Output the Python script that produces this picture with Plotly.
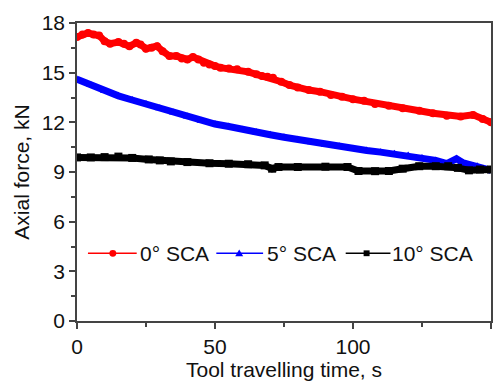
import plotly.graph_objects as go

# Tool travelling time (s) and axial force (kN)
t_red = [0, 2, 4, 6, 8, 10, 12, 15, 17, 19, 21.5, 23, 25, 27, 29, 31, 33.5, 36, 38, 40,
         42, 44, 46, 48, 50, 52, 55, 58, 62, 65, 67, 69, 71, 74, 77, 80, 84, 88, 92, 96,
         100, 104, 108, 113, 118, 124, 129, 134, 139, 143.5, 147, 150]
f_red = [17.15, 17.3, 17.4, 17.3, 17.25, 16.9, 16.75, 16.85, 16.75, 16.6, 16.8, 16.7, 16.45,
         16.5, 16.6, 16.3, 16.0, 16.0, 15.85, 15.8, 15.95, 15.8, 15.6, 15.5, 15.4, 15.3,
         15.25, 15.2, 15.05, 14.9, 14.8, 14.75, 14.7, 14.45, 14.25, 14.1, 13.95, 13.85,
         13.65, 13.55, 13.4, 13.3, 13.1, 13.0, 12.85, 12.7, 12.55, 12.4, 12.35, 12.45, 12.2, 12.0]

t_blue = [0, 5, 10, 15, 20, 25, 30, 35, 40, 45, 50, 55, 60, 65, 70, 75, 80, 85, 90, 95,
          100, 105, 110, 115, 120, 125, 130, 134, 137.5, 140, 145, 150]
f_blue = [14.6, 14.25, 13.9, 13.6, 13.35, 13.1, 12.85, 12.6, 12.35, 12.1, 11.9, 11.75,
          11.55, 11.4, 11.25, 11.1, 10.95, 10.8, 10.65, 10.55, 10.4, 10.3, 10.2, 10.1,
          10.0, 9.85, 9.7, 9.5, 9.8, 9.55, 9.35, 9.1]

t_black = [0, 5, 10, 15, 20, 26, 30, 34, 40, 48, 55, 62, 68, 70.7, 73, 80, 90, 98, 102,
           108, 113, 118, 124, 130, 134.5, 138, 142, 146, 150]
f_black = [9.88, 9.88, 9.9, 9.93, 9.85, 9.76, 9.7, 9.64, 9.6, 9.53, 9.5, 9.47, 9.4, 9.2,
           9.3, 9.3, 9.32, 9.3, 9.06, 9.05, 9.06, 9.2, 9.35, 9.35, 9.35, 9.25, 9.1, 9.15, 9.15]

names = ["0° SCA", "5° SCA", "10° SCA"]
colors = ["#ff0000", "#0000ff", "#000000"]
symbols = ["circle", "triangle-up", "square"]

x_ticks = [0, 50, 100, 150]
y_ticks = [0, 3, 6, 9, 12, 15, 18]

W, H = 504, 387
ML, MR, MT, MB = 77, 11, 19, 60
PW, PH = W - ML - MR, H - MT - MB


def px(x):  # pixel x -> paper x
    return (x - ML) / PW


def py(y):  # pixel y -> paper y
    return (H - MB - y) / PH


FONT = "Liberation Sans, Arial, sans-serif"
TXT = "#111"
fig = go.Figure()
for name, xs, ys, col, sym in zip(names, [t_red, t_blue, t_black],
                                  [f_red, f_blue, f_black], colors, symbols):
    fig.add_trace(go.Scatter(x=xs, y=ys, mode="lines+markers", name=name, showlegend=False,
                             line=dict(color=col, width=7),
                             marker=dict(color=col, symbol=sym, size=8)))

# custom legend (line + symbol + label), placed like the reference
legend_items = [  # (line start, line end, marker centre, text start) in pixels
    (88, 137, 113, 138),
    (217, 264, 240, 266),
    (347, 392, 368, 392),
]
ly = 257
shapes = []
annotations = []
for (x0, x1, xm, xt), name, col, sym in zip(legend_items, names, colors, symbols):
    shapes.append(dict(type="line", xref="paper", yref="paper", x0=px(x0), x1=px(x1),
                       y0=py(ly), y1=py(ly), line=dict(color=col, width=1.5)))
    if sym == "circle":
        shapes.append(dict(type="circle", xref="paper", yref="paper",
                           x0=px(xm - 3.5), x1=px(xm + 3.5), y0=py(ly + 3.5), y1=py(ly - 3.5),
                           fillcolor=col, line=dict(color=col, width=0)))
    elif sym == "square":
        shapes.append(dict(type="rect", xref="paper", yref="paper",
                           x0=px(xm - 3), x1=px(xm + 3), y0=py(ly + 3), y1=py(ly - 3),
                           fillcolor=col, line=dict(color=col, width=0)))
    else:
        path = "M {} {} L {} {} L {} {} Z".format(px(xm - 4), py(ly + 3), px(xm + 4),
                                                  py(ly + 3), px(xm), py(ly - 4))
        shapes.append(dict(type="path", xref="paper", yref="paper", path=path,
                           fillcolor=col, line=dict(color=col, width=0)))
    annotations.append(dict(text=name, xref="paper", yref="paper", x=px(xt), y=py(ly),
                            xanchor="left", yanchor="middle", showarrow=False,
                            font=dict(family=FONT, size=21, color=TXT)))

axis_common = dict(showline=True, linecolor="#444", linewidth=1.5, mirror=True,
                   ticks="outside", ticklen=6, tickwidth=1.5, tickcolor="#444",
                   showgrid=False, zeroline=False,
                   tickfont=dict(family=FONT, size=21, color=TXT))
fig.update_xaxes(range=[0, 150], tickvals=x_ticks, ticktext=[str(v) for v in x_ticks],
                 title=dict(text="Tool travelling time, s", standoff=3,
                            font=dict(family=FONT, size=21, color=TXT)),
                 minor=dict(dtick=25, tick0=0, ticks="outside", ticklen=4, tickwidth=1.5,
                            tickcolor="#444"),
                 **axis_common)
fig.update_yaxes(range=[0, 18], tickvals=y_ticks, ticktext=[str(v) for v in y_ticks],
                 title=dict(text="Axial force, kN", standoff=6,
                            font=dict(family=FONT, size=21, color=TXT)),
                 minor=dict(dtick=1.5, tick0=0, ticks="outside", ticklen=4, tickwidth=1.5,
                            tickcolor="#444"),
                 **axis_common)
fig.update_layout(
    width=W, height=H,
    margin=dict(l=ML, r=MR, t=MT, b=MB),
    paper_bgcolor="white", plot_bgcolor="white",
    showlegend=False,
    shapes=shapes, annotations=annotations,
)
fig.write_html("out.html")
